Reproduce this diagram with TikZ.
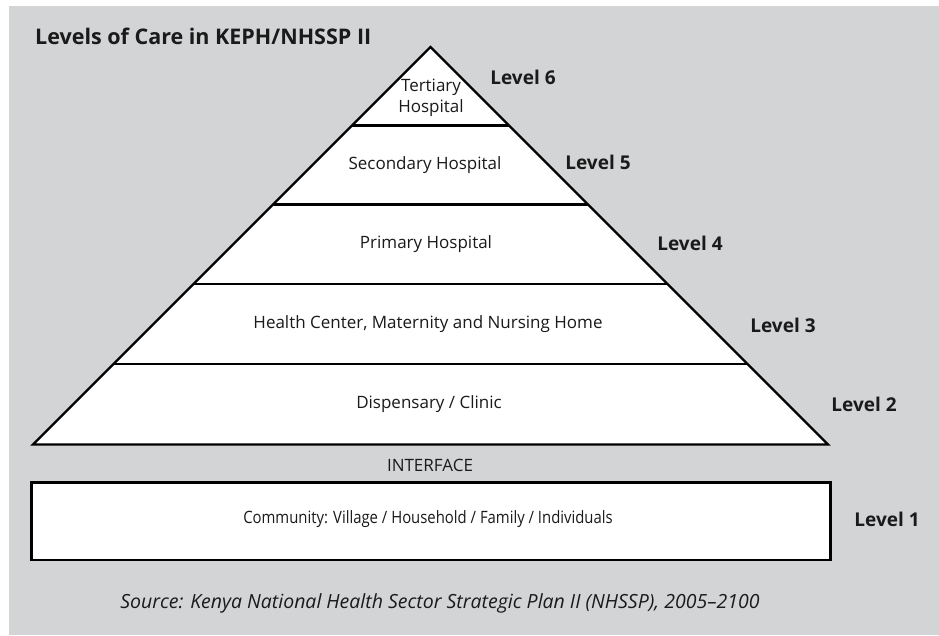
\documentclass[tikz,border=0pt]{standalone}
\usepackage{fontspec}
\setmainfont{Open Sans}
\definecolor{bggray}{HTML}{D3D4D6}
\definecolor{ink}{HTML}{1A1A1A}
\begin{document}
\begin{tikzpicture}[x=1pt,y=-1pt,
  edge/.style={line width=2.3pt,draw=black,line join=miter},
  tier/.style={font=\fontsize{17}{20.5}\selectfont,text=ink,align=center,inner sep=0pt},
  lvl/.style={font=\fontsize{19}{22}\selectfont\bfseries,text=ink,inner sep=0pt},
]
\useasboundingbox (0,0) rectangle (939,635);
\fill[white] (0,0) rectangle (939,635);
\fill[bggray] (9,6) rectangle (939,635);

% pyramid
\coordinate (apex) at (430.5,47);
\coordinate (bl) at (33,444.5);
\coordinate (br) at (828,444.5);
\fill[white] (apex) -- (bl) -- (br) -- cycle;
\foreach \y/\n in {125.5/a,204.5/b,284/c,364/d}{
  \pgfmathsetmacro{\hw}{\y-47}
  \coordinate (l\n) at ({430.5-\hw},\y);
  \coordinate (r\n) at ({430.5+\hw},\y);
  \draw[edge] (l\n) -- (r\n);
}
\draw[edge] (apex) -- (bl) -- (br) -- cycle;

% community box
\draw[edge,fill=white] (31.5,482.5) rectangle (830.5,560);

% title
\node[anchor=west,font=\fontsize{21.5}{25}\selectfont\bfseries,text=ink,inner sep=0pt] (title) at (35,36) {Levels of Care in KEPH/NHSSP II};

% tier labels
\node[tier] (t6) at (431,98) {Tertiary\\Hospital};
\node[tier] (t5) at (425,165) {Secondary Hospital};
\node[tier] (t4) at (426,244) {Primary Hospital};
\node[tier] (t3) at (428,324) {Health Center, Maternity and Nursing Home};
\node[tier] (t2) at (429,404) {Dispensary / Clinic};
\node[tier] (iface) at (430,465) {INTERFACE};
\node[tier] (t1) at (428,519) {\scalebox{0.875}[1]{Community: Village / Household / Family / Individuals}};

% level labels
\node[lvl] (L6) at (523,77) {Level 6};
\node[lvl] (L5) at (598,162) {Level 5};
\node[lvl] (L4) at (690,243) {Level 4};
\node[lvl] (L3) at (783,325) {Level 3};
\node[lvl] (L2) at (864,404) {Level 2};
\node[lvl] (L1) at (887,519) {Level 1};

% source
\node[font=\fontsize{19.5}{23}\selectfont\itshape,text=ink,inner sep=0pt] (src) at (440,603) {Source: Kenya National Health Sector Strategic Plan II (NHSSP), 2005--2100};
\end{tikzpicture}
\end{document}
